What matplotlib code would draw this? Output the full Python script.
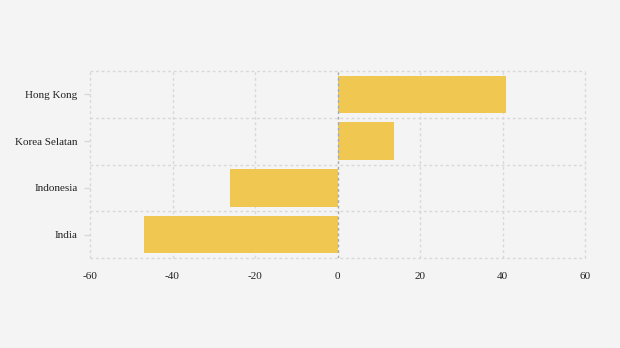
import numpy as np
import matplotlib.pyplot as plt

countries = ['India', 'Indonesia', 'Korea Selatan', 'Hong Kong']
values = [-46.9, -26.1, 13.7, 40.8]
x_ticks = [-60, -40, -20, 0, 20, 40, 60]

plt.rcParams['font.family'] = ['Liberation Serif', 'DejaVu Serif']

fig = plt.figure(figsize=(6.2, 3.48), dpi=100)
fig.patch.set_facecolor('#f4f4f4')
ax = fig.add_axes([90 / 620, 1 - 258 / 348, 495 / 620, 187 / 348])
ax.set_facecolor('#f4f4f4')

y = np.arange(len(countries))
ax.barh(y, values, height=0.8, color='#f0c751', zorder=3)

ax.set_xlim(-60, 60)
ax.set_ylim(-0.5, len(countries) - 0.5)

# grid: vertical at ticks, horizontal between categories
for xv in x_ticks:
    if xv == 0:
        continue
    ax.axvline(xv, color='#d8d8d8', linestyle=(0, (2, 2)), linewidth=1,
               zorder=1, clip_on=False)
for yb in np.arange(-0.5, len(countries), 1.0):
    ax.axhline(yb, color='#d8d8d8', linestyle=(0, (2, 2)), linewidth=1,
               zorder=1, clip_on=False)
ax.axvline(0, color='#a8a8a8', linestyle=(0, (2, 2)), linewidth=1, zorder=4)

for s in ax.spines.values():
    s.set_visible(False)

ax.set_xticks(x_ticks)
ax.set_xticklabels([str(v) for v in x_ticks])
ax.set_yticks(y)
ax.set_yticklabels(countries)
ax.tick_params(axis='x', length=0, pad=10, labelsize=8, colors='#222222')
ax.tick_params(axis='y', length=4, width=1, color='#d8d8d8', pad=5,
               labelsize=8, labelcolor='#222222')

fig.savefig('out.png', dpi=100, facecolor=fig.get_facecolor())
